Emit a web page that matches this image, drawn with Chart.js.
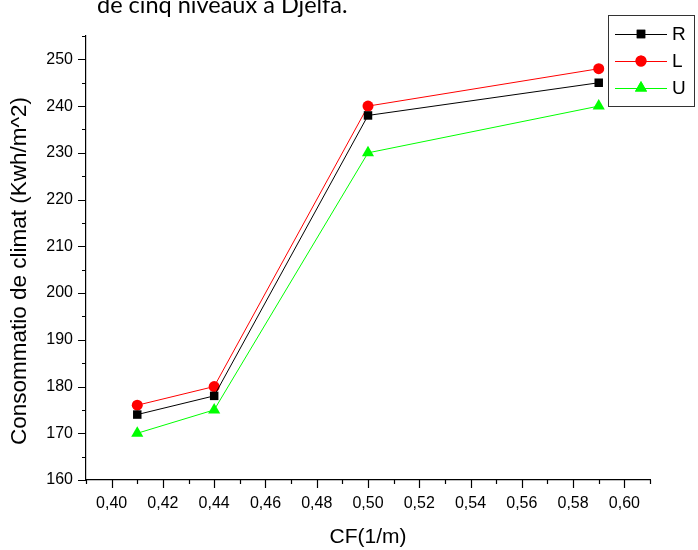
<!DOCTYPE html>
<html>
<head>
<meta charset="utf-8">
<script src="https://cdn.jsdelivr.net/npm/chart.js@4"></script>
<style>
    html, body { margin: 0; padding: 0; background: #fff; overflow: hidden; }
    #wrap { position: relative; width: 698px; height: 550px; }
    #caption {
        position: absolute; left: 97px; top: -10px;
        font-family: Lato, sans-serif; font-size: 23.5px; color: #000;
        white-space: nowrap;
    }
</style>
</head>
<body>
<div id="wrap">
    <div id="caption">de cinq niveaux à Djelfa.</div>
    <canvas id="chart" width="698" height="550"></canvas>
</div>
<script>
// Coefficient de forme (1/m)
const cfValues = [0.41, 0.44, 0.50, 0.59];
// Consommation par orientation (Kwh/m^2)
const serieR = [174, 178, 238, 245];
const serieL = [176, 180, 240, 248];
const serieU = [170, 175, 230, 240];
const seriesNames = ['R', 'L', 'U'];

const FONT = '"Liberation Sans", Arial, sans-serif';

function toPoints(values) {
    return cfValues.map((x, i) => ({ x: x, y: values[i] }));
}

// Ticks sortants (majeurs + mineurs) dessinés à la main
const axisTicks = {
    id: 'axisTicks',
    afterDraw(chart) {
        const ctx = chart.ctx;
        const area = chart.chartArea;
        const xs = chart.scales.x, ys = chart.scales.y;
        ctx.save();
        ctx.strokeStyle = '#000';
        ctx.lineWidth = 1.2;
        ctx.beginPath();
        xs.ticks.forEach(t => {
            const major = Math.round(t.value * 100) % 2 === 0;
            const px = Math.round(xs.getPixelForValue(t.value)) + 0.5;
            ctx.moveTo(px, area.bottom);
            ctx.lineTo(px, area.bottom + (major ? 8 : 4));
        });
        ys.ticks.forEach(t => {
            const major = Math.round(t.value) % 10 === 0;
            const py = Math.round(ys.getPixelForValue(t.value)) + 0.5;
            ctx.moveTo(area.left, py);
            ctx.lineTo(area.left - (major ? 8 : 4), py);
        });
        ctx.stroke();
        ctx.restore();
    }
};

// Titre de l'axe Y (un peu décalé vers le bas)
const yTitle = {
    id: 'yTitle',
    afterDraw(chart) {
        const ctx = chart.ctx;
        ctx.save();
        ctx.translate(20, 271);
        ctx.rotate(-Math.PI / 2);
        ctx.fillStyle = '#000';
        ctx.font = '22.5px ' + FONT;
        ctx.textAlign = 'center';
        ctx.textBaseline = 'middle';
        ctx.fillText('Consommatio de climat (Kwh/m^2)', 0, 0);
        ctx.restore();
    }
};

// Légende encadrée en haut à droite
const boxLegend = {
    id: 'boxLegend',
    afterDraw(chart) {
        const ctx = chart.ctx;
        const left = 608, top = 15, w = 86, h = 91;
        ctx.save();
        ctx.strokeStyle = '#333';
        ctx.lineWidth = 1;
        ctx.strokeRect(left + 0.5, top + 0.5, w, h);
        chart.data.datasets.forEach((ds, i) => {
            const y = 34 + i * 27;
            ctx.strokeStyle = ds.borderColor;
            ctx.lineWidth = 1;
            ctx.beginPath();
            ctx.moveTo(615, y + 0.5);
            ctx.lineTo(667, y + 0.5);
            ctx.stroke();
            ctx.fillStyle = ds.backgroundColor;
            ctx.beginPath();
            Chart.helpers.drawPoint(ctx, {
                pointStyle: ds.pointStyle,
                radius: ds.pointRadius,
                borderWidth: 0
            }, 641, y);
            ctx.fill();
            ctx.fillStyle = '#000';
            ctx.font = '19px ' + FONT;
            ctx.textBaseline = 'middle';
            ctx.fillText(ds.label, 672, y + 1);
        });
        ctx.restore();
    }
};

const ctx = document.getElementById('chart').getContext('2d');
new Chart(ctx, {
    type: 'line',
    data: {
        datasets: [
            {
                label: seriesNames[0],
                data: toPoints(serieR),
                borderColor: '#000000',
                backgroundColor: '#000000',
                pointStyle: 'rect',
                pointRadius: 6
            },
            {
                label: seriesNames[1],
                data: toPoints(serieL),
                borderColor: '#ff0000',
                backgroundColor: '#ff0000',
                pointStyle: 'circle',
                pointRadius: 5.5
            },
            {
                label: seriesNames[2],
                data: toPoints(serieU),
                borderColor: '#00ff00',
                backgroundColor: '#00ff00',
                pointStyle: 'triangle',
                pointRadius: 7
            }
        ]
    },
    options: {
        responsive: false,
        animation: false,
        elements: {
            line: { borderWidth: 1, tension: 0 },
            point: { borderWidth: 0, hoverRadius: 6 }
        },
        layout: { padding: { left: 0, top: 36, right: 48, bottom: 0 } },
        plugins: {
            legend: { display: false },
            tooltip: { enabled: false }
        },
        scales: {
            x: {
                type: 'linear',
                min: 0.39,
                max: 0.61,
                grid: { display: false },
                border: { display: true, color: '#000', width: 1.2 },
                afterFit(scale) { scale.height = 70; },
                ticks: {
                    stepSize: 0.01,
                    autoSkip: false,
                    maxRotation: 0,
                    padding: 6,
                    color: '#000',
                    font: { family: FONT, size: 16 },
                    callback: v => Math.round(v * 100) % 2 === 0 ? v.toFixed(2).replace('.', ',') : ''
                },
                title: {
                    display: true,
                    text: 'CF(1/m)',
                    color: '#000',
                    font: { family: FONT, size: 21 },
                    padding: { top: 0, bottom: 0 }
                }
            },
            y: {
                min: 160,
                max: 255,
                grid: { display: false },
                border: { display: true, color: '#000', width: 1.2 },
                afterFit(scale) { scale.width = 86; },
                ticks: {
                    stepSize: 5,
                    autoSkip: false,
                    padding: 5,
                    color: '#000',
                    font: { family: FONT, size: 16 },
                    callback: v => (v % 10 === 0 && v <= 250) ? String(v) : ''
                }
            }
        }
    },
    plugins: [axisTicks, yTitle, boxLegend]
});
</script>
</body>
</html>
